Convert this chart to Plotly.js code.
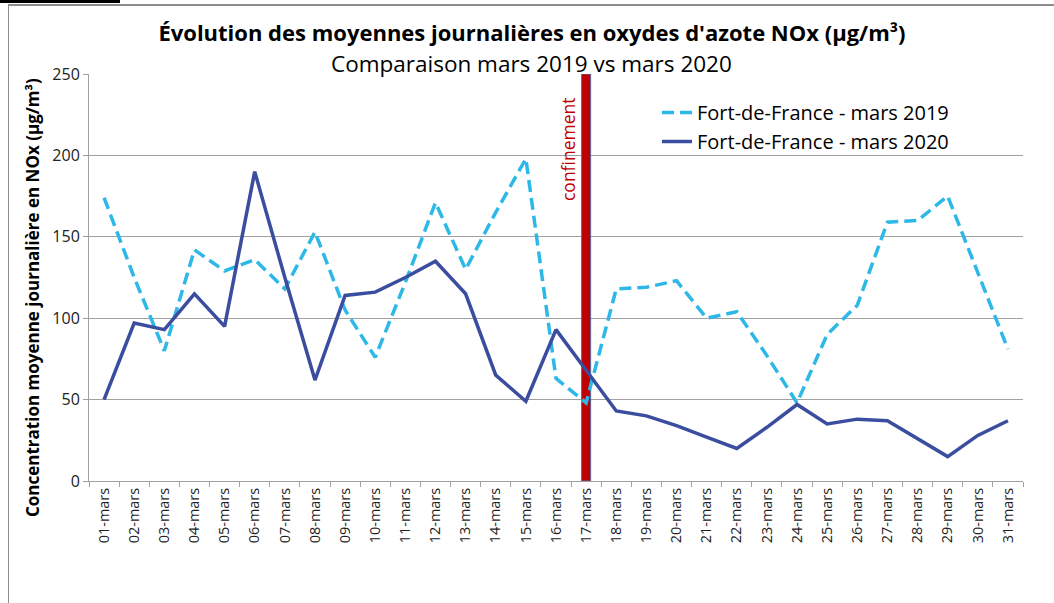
<!DOCTYPE html>
<html>
<head>
<meta charset="utf-8">
<script src="https://cdn.plot.ly/plotly-3.0.1.min.js"></script>
<style>
  html, body { margin: 0; padding: 0; background: #ffffff; }
  #wrap { position: relative; width: 1054px; height: 603px; overflow: hidden; }
  #chart { position: absolute; left: 0; top: 0; width: 1054px; height: 603px; }
  #frame { position: absolute; left: 8px; top: 4px; width: 1060px; height: 620px;
           border-left: 1px solid #8c8c8c; border-top: 2px solid #8c8c8c; pointer-events: none; }
  #blackbar { position: absolute; left: 0; top: 0; width: 120px; height: 3px; background: #000; pointer-events: none; }
</style>
</head>
<body>
<div id="wrap">
  <div id="chart"></div>
  <div id="frame"></div>
  <div id="blackbar"></div>
</div>
<script>
// ---- Data ----
const days = ["01-mars","02-mars","03-mars","04-mars","05-mars","06-mars","07-mars","08-mars",
              "09-mars","10-mars","11-mars","12-mars","13-mars","14-mars","15-mars","16-mars",
              "17-mars","18-mars","19-mars","20-mars","21-mars","22-mars","23-mars","24-mars",
              "25-mars","26-mars","27-mars","28-mars","29-mars","30-mars","31-mars"];

const nox2019 = [174, 125, 80, 142, 129, 136, 118, 153, 105, 76, 122, 171, 130, 165, 198, 63,
                 48, 118, 119, 123, 100, 104, 77, 48, 90, 108, 159, 160, 175, 128, 81];

const nox2020 = [50, 97, 93, 115, 95, 190, 125, 62, 114, 116, 125, 135, 115, 65, 49, 93,
                 68, 43, 40, 34, 27, 20, 33, 47, 35, 38, 37, 26, 15, 28, 37];

const confinementDay = ["17-mars"];
const confinementValue = [250];

const name2019 = "Fort-de-France - mars 2019";
const name2020 = "Fort-de-France - mars 2020";
const titleText = "Évolution des moyennes journalières en oxydes d'azote NOx (µg/m³)";
const subtitleText = "Comparaison mars 2019 vs mars 2020";
const yTitleText = "Concentration moyenne journalière en NOx (µg/m³)";
const confinementLabel = "confinement";

// ---- Layout geometry ----
const W = 1054, H = 603;
const L = 89, R = 31, T = 74, B = 122;
const plotW = W - L - R, plotH = H - T - B;
const px2paperX = px => (px - L) / plotW;
const px2paperY = py => (H - B - py) / plotH;

const FONT = "Open Sans, Noto Sans, sans-serif";

const traces = [
  {
    type: "bar",
    x: confinementDay,
    y: confinementValue,
    width: 0.3,
    marker: { color: "#C00000", line: { color: "#5468A6", width: 1 } },
    showlegend: false,
    hoverinfo: "skip"
  },
  {
    type: "scatter",
    mode: "lines",
    name: name2019,
    x: days,
    y: nox2019,
    line: { color: "#2DB8E8", width: 3.5, dash: "12px,6px" }
  },
  {
    type: "scatter",
    mode: "lines",
    name: name2020,
    x: days,
    y: nox2020,
    line: { color: "#3A4D9E", width: 3.5 }
  }
];

const layout = {
  width: W,
  height: H,
  margin: { l: L, r: R, t: T, b: B, pad: 0 },
  paper_bgcolor: "#ffffff",
  plot_bgcolor: "#ffffff",
  font: { family: FONT, color: "#000000" },
  title: {
    text: "<b>" + titleText + "</b>",
    font: { family: FONT, size: 22, color: "#000000" },
    xref: "paper",
    x: px2paperX(532),
    xanchor: "center",
    yref: "container",
    y: 1 - 33 / H,
    yanchor: "middle"
  },
  showlegend: true,
  legend: {
    x: px2paperX(657),
    y: px2paperY(93),
    xanchor: "left",
    yanchor: "top",
    bgcolor: "rgba(0,0,0,0)",
    font: { family: FONT, size: 20, color: "#000000" },
    traceorder: "normal"
  },
  xaxis: {
    type: "category",
    categoryorder: "array",
    categoryarray: days,
    range: [-0.5, days.length - 0.5],
    tickangle: -90,
    tickson: "boundaries",
    ticks: "outside",
    ticklen: 5,
    tickcolor: "#a0a0a0",
    showline: true,
    linecolor: "#a0a0a0",
    linewidth: 1,
    showgrid: false,
    zeroline: false,
    tickfont: { family: FONT, size: 14.5, color: "#222222" }
  },
  yaxis: {
    range: [0, 250],
    dtick: 50,
    tick0: 0,
    ticks: "outside",
    ticklen: 5,
    tickcolor: "#a0a0a0",
    showline: true,
    linecolor: "#a0a0a0",
    linewidth: 1,
    showgrid: true,
    gridcolor: "#a0a0a0",
    gridwidth: 1,
    zeroline: false,
    tickfont: { family: FONT, size: 16, color: "#222222" }
  },
  bargap: 0,
  annotations: [
    {
      text: subtitleText,
      xref: "paper", yref: "paper",
      x: px2paperX(531), y: px2paperY(63),
      xanchor: "center", yanchor: "middle",
      showarrow: false,
      font: { family: FONT, size: 22.5, color: "#000000" }
    },
    {
      text: "<b>" + yTitleText + "</b>",
      xref: "paper", yref: "paper",
      x: px2paperX(32), y: px2paperY(298),
      xanchor: "center", yanchor: "middle",
      textangle: -90,
      showarrow: false,
      font: { family: FONT, size: 17, color: "#000000" }
    },
    {
      text: confinementLabel,
      xref: "x", yref: "y",
      x: confinementDay[0], y: 204,
      xshift: -18,
      xanchor: "center", yanchor: "middle",
      textangle: -90,
      showarrow: false,
      font: { family: FONT, size: 17.5, color: "#C00000" }
    }
  ]
};

Plotly.newPlot("chart", traces, layout, { displayModeBar: false, staticPlot: true });
</script>
</body>
</html>
